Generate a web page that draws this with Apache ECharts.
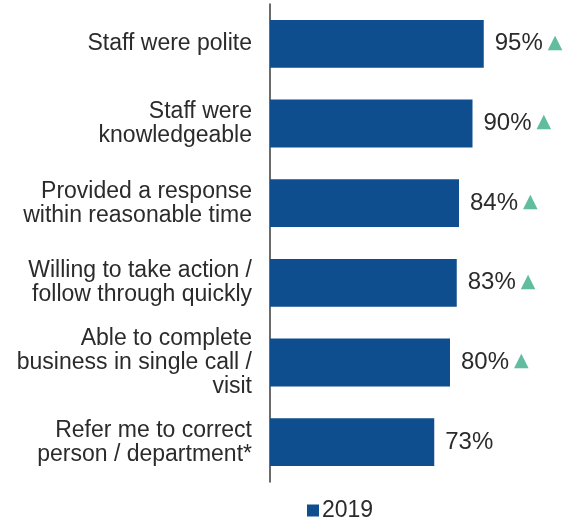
<!DOCTYPE html>
<html>
<head>
<meta charset="utf-8">
<script src="https://cdn.jsdelivr.net/npm/echarts@6/dist/echarts.min.js"></script>
<style>
  html, body { margin: 0; padding: 0; background: #ffffff; }
  #chart { width: 572px; height: 521px; }
</style>
</head>
<body>
<div id="chart"></div>
<script>
// Satisfaction statements, top to bottom
const categories = [
  'Staff were polite',
  'Staff were\nknowledgeable',
  'Provided a response\nwithin reasonable time',
  'Willing to take action /\nfollow through quickly',
  'Able to complete\nbusiness in single call /\nvisit',
  'Refer me to correct\nperson / department*'
];
const values2019 = [95, 90, 84, 83, 80, 73];
// Significant increase marker per statement
const increased = [true, true, true, true, true, false];

const chart = echarts.init(document.getElementById('chart'));
const font = '"Liberation Sans", Arial, sans-serif';

chart.setOption({
  animation: false,
  textStyle: { fontFamily: font },
  grid: { left: 270, right: 77, top: 4, bottom: 39, containLabel: false },
  legend: {
    data: ['2019'],
    top: 494,
    left: 302,
    itemWidth: 12,
    itemHeight: 12,
    itemGap: 6,
    icon: 'rect',
    textStyle: { fontSize: 23, color: '#2b2b2b', fontFamily: font, padding: [0, 0, 0, -2] }
  },
  xAxis: {
    type: 'value',
    min: 0,
    max: 100,
    show: false
  },
  yAxis: {
    type: 'category',
    data: categories,
    inverse: true,
    axisLine: { show: true, lineStyle: { color: '#3a3a3a', width: 1.5 } },
    axisTick: { show: false },
    axisLabel: {
      margin: 18,
      fontSize: 23,
      lineHeight: 24,
      color: '#2b2b2b',
      align: 'right',
      fontFamily: font
    }
  },
  series: [{
    name: '2019',
    type: 'bar',
    data: values2019,
    barCategoryGap: '40%',
    itemStyle: { color: '#0e4e8e' },
    label: {
      show: true,
      position: 'right',
      distance: 11,
      formatter: function (p) {
        return '{v|' + p.value + '%}' + (increased[p.dataIndex] ? '{t|▲}' : '');
      },
      rich: {
        v: { fontSize: 24, color: '#2b2b2b', fontFamily: font },
        t: { fontSize: 19, color: '#62bc9f', fontFamily: '"DejaVu Sans"', padding: [0, 0, 2, 5] }
      }
    }
  }]
});
</script>
</body>
</html>
